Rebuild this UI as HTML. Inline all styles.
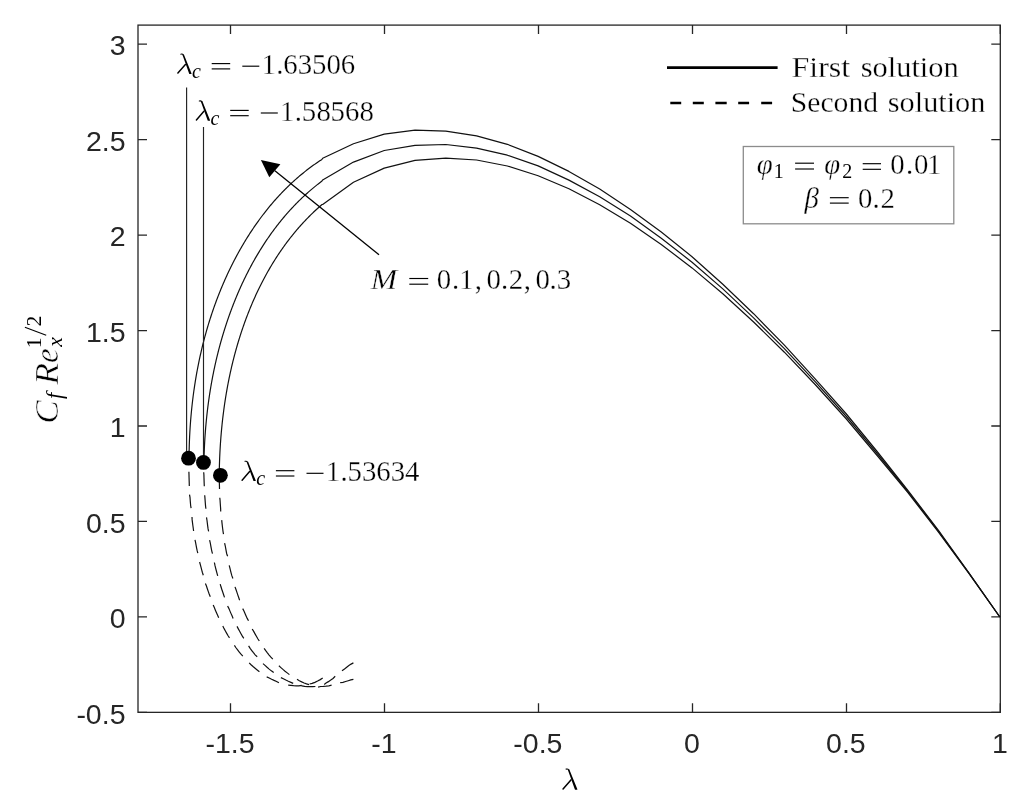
<!DOCTYPE html>
<html><head><meta charset="utf-8"><style>
html,body{margin:0;padding:0;background:#fff;}
svg{display:block;filter:grayscale(1);}
.m text{stroke:#fff;stroke-width:.3px;}
.m .yl text{stroke-width:.55px;}
</style></head><body>
<svg width="1024" height="810" viewBox="0 0 1024 810">
<rect width="1024" height="810" fill="#fff"/>
<rect x="138" y="25.1" width="862.3" height="687.25" fill="none" stroke="#262626" stroke-width="1.3"/>
<path d="M230.50 712.35v-9M230.50 25.1v9M384.50 712.35v-9M384.50 25.1v9M538.50 712.35v-9M538.50 25.1v9M692.50 712.35v-9M692.50 25.1v9M846.50 712.35v-9M846.50 25.1v9M1000.30 712.35v-9M1000.30 25.1v9M138 712.35h9M1000.3 712.35h-9M138 616.90h9M1000.3 616.90h-9M138 521.45h9M1000.3 521.45h-9M138 426.00h9M1000.3 426.00h-9M138 330.55h9M1000.3 330.55h-9M138 235.10h9M1000.3 235.10h-9M138 139.65h9M1000.3 139.65h-9M138 44.20h9M1000.3 44.20h-9" stroke="#262626" stroke-width="1.3" fill="none"/>
<g font-family="Liberation Sans, sans-serif" font-size="28.5" fill="#262626"><text x="229.97" y="753" text-anchor="middle">-1.5</text><text x="383.94" y="753" text-anchor="middle">-1</text><text x="537.91" y="753" text-anchor="middle">-0.5</text><text x="691.88" y="753" text-anchor="middle">0</text><text x="845.85" y="753" text-anchor="middle">0.5</text><text x="999.82" y="753" text-anchor="middle">1</text><text x="125.5" y="723.55" text-anchor="end">-0.5</text><text x="125.5" y="628.10" text-anchor="end">0</text><text x="125.5" y="532.65" text-anchor="end">0.5</text><text x="125.5" y="437.20" text-anchor="end">1</text><text x="125.5" y="341.75" text-anchor="end">1.5</text><text x="125.5" y="246.30" text-anchor="end">2</text><text x="125.5" y="150.85" text-anchor="end">2.5</text><text x="125.5" y="55.40" text-anchor="end">3</text></g>
<polyline points="189.04,457.86 189.05,456.61 189.07,455.37 189.08,454.12 189.10,452.87 189.12,451.63 189.15,450.38 189.17,449.13 189.21,447.89 189.24,446.64 189.27,445.39 189.31,444.15 189.36,442.90 189.40,441.65 189.45,440.40 189.50,439.15 189.56,437.91 189.61,436.66 189.67,435.41 189.74,434.16 189.80,432.91 189.87,431.67 189.94,430.42 190.02,429.17 190.10,427.92 190.18,426.67 190.26,425.43 190.35,424.18 190.44,422.93 190.54,421.68 190.63,420.43 190.73,419.19 190.84,417.94 190.94,416.69 191.05,415.44 191.17,414.20 191.28,412.95 191.40,411.70 191.52,410.46 191.65,409.21 191.78,407.96 191.91,406.72 192.04,405.47 192.18,404.23 192.32,402.98 192.47,401.74 192.61,400.49 192.77,399.25 192.92,398.00 193.08,396.76 193.24,395.51 193.40,394.27 193.57,393.03 193.74,391.79 193.91,390.54 194.09,389.30 194.27,388.06 194.46,386.82 194.64,385.58 194.83,384.34 195.03,383.10 195.22,381.86 195.42,380.62 195.63,379.39 195.84,378.15 196.05,376.91 196.26,375.68 196.48,374.44 196.70,373.20 196.92,371.97 197.15,370.74 197.38,369.50 197.61,368.27 197.85,367.04 198.09,365.80 198.34,364.57 198.59,363.34 198.84,362.11 199.09,360.88 199.35,359.66 199.61,358.43 199.88,357.20 200.15,355.97 200.42,354.75 200.70,353.52 200.98,352.30 201.26,351.08 201.55,349.85 201.84,348.63 202.13,347.41 202.43,346.19 202.73,344.97 203.03,343.75 203.34,342.54 203.65,341.32 203.97,340.10 204.29,338.89 204.61,337.68 204.94,336.46 205.27,335.25 205.60,334.04 205.94,332.83 206.28,331.62 206.62,330.41 206.97,329.21 207.32,328.00 207.68,326.79 208.04,325.59 208.40,324.39 208.77,323.18 209.14,321.98 209.51,320.78 209.89,319.59 210.27,318.39 210.66,317.19 211.05,316.00 211.44,314.80 211.83,313.61 212.24,312.42 212.64,311.23 213.05,310.04 213.46,308.85 213.87,307.66 214.29,306.47 214.72,305.29 215.14,304.11 215.58,302.92 216.01,301.74 216.45,300.56 216.89,299.39 217.34,298.21 217.79,297.04 218.24,295.86 218.70,294.69 219.16,293.52 219.63,292.35 220.10,291.18 220.57,290.02 221.05,288.85 221.53,287.69 222.01,286.53 222.50,285.37 223.00,284.21 223.49,283.06 223.99,281.90 224.50,280.75 225.01,279.60 225.52,278.45 226.04,277.30 226.56,276.16 227.08,275.01 227.61,273.87 228.14,272.73 228.68,271.60 229.22,270.46 229.77,269.33 230.32,268.20 230.87,267.07 231.42,265.94 231.99,264.81 232.55,263.69 233.12,262.57 233.69,261.45 234.27,260.33 234.85,259.22 235.44,258.11 236.02,257.00 236.62,255.89 237.22,254.78 237.82,253.68 238.42,252.58 239.03,251.48 239.65,250.39 240.26,249.29 240.89,248.20 241.51,247.11 242.14,246.03 242.78,244.94 243.42,243.86 244.06,242.78 244.70,241.71 245.36,240.64 246.01,239.56 246.67,238.50 247.33,237.43 248.00,236.37 248.67,235.31 249.35,234.25 250.03,233.20 250.71,232.15 251.40,231.10 252.10,230.05 252.79,229.01 253.50,227.97 254.20,226.93 254.91,225.90 255.63,224.87 256.34,223.85 257.07,222.82 257.79,221.80 258.53,220.78 259.26,219.77 260.00,218.76 260.75,217.75 261.49,216.75 262.25,215.75 263.00,214.76 263.77,213.76 264.53,212.77 265.30,211.79 266.08,210.81 266.86,209.83 267.64,208.85 268.43,207.88 269.22,206.92 270.02,205.96 270.82,205.00 271.62,204.04 272.43,203.09 273.25,202.15 274.07,201.20 274.89,200.27 275.72,199.33 276.55,198.40 277.39,197.48 278.23,196.55 279.07,195.64 279.92,194.72 280.78,193.82 281.64,192.91 282.50,192.01 283.37,191.12 284.24,190.23 285.12,189.34 286.00,188.46 286.88,187.59 287.78,186.71 288.67,185.85 289.57,184.99 290.47,184.13 291.38,183.28 292.30,182.43 293.22,181.59 294.14,180.75 295.07,179.92 296.00,179.09 296.93,178.27 297.88,177.45 298.82,176.64 299.77,175.83 300.73,175.03 301.69,174.23 302.65,173.44 303.62,172.66 304.59,171.88 305.57,171.10 306.55,170.33 307.54,169.57 308.54,168.81 309.53,168.06 310.53,167.31 311.54,166.57 312.55,165.84 313.57,165.11 314.59,164.38 315.61,163.67 316.65,162.95 317.68,162.25 318.72,161.55 319.76,160.85 320.81,160.16 321.87,159.48 322.68,158.20 353.46,143.70 384.24,134.10 415.02,130.20 445.80,131.20 476.58,135.80 507.36,144.30 538.14,156.40 568.92,171.40 599.70,189.10 630.48,209.40 661.26,232.05 692.04,256.70 722.82,284.20 753.60,313.70 784.38,345.20 815.16,378.90 845.94,413.50 876.72,451.00 907.50,489.80 938.28,530.20 969.06,573.00 999.84,617.00" fill="none" stroke="#111" stroke-width="1.2" stroke-linejoin="round"/>
<polyline points="203.89,462.40 203.92,461.22 203.95,460.04 203.98,458.86 204.01,457.68 204.04,456.50 204.08,455.32 204.12,454.14 204.16,452.96 204.21,451.78 204.25,450.60 204.30,449.42 204.36,448.24 204.41,447.06 204.47,445.89 204.53,444.71 204.59,443.53 204.65,442.35 204.72,441.17 204.79,440.00 204.86,438.82 204.94,437.64 205.02,436.47 205.10,435.29 205.18,434.12 205.27,432.94 205.35,431.77 205.44,430.59 205.54,429.42 205.63,428.24 205.73,427.07 205.83,425.89 205.94,424.72 206.05,423.55 206.15,422.38 206.27,421.20 206.38,420.03 206.50,418.86 206.62,417.69 206.74,416.52 206.87,415.35 207.00,414.18 207.13,413.01 207.26,411.84 207.40,410.67 207.54,409.50 207.68,408.33 207.82,407.17 207.97,406.00 208.12,404.83 208.28,403.67 208.43,402.50 208.59,401.33 208.75,400.17 208.92,399.01 209.09,397.84 209.26,396.68 209.43,395.52 209.61,394.35 209.78,393.19 209.97,392.03 210.15,390.87 210.34,389.71 210.53,388.55 210.72,387.39 210.92,386.23 211.12,385.07 211.32,383.91 211.53,382.76 211.74,381.60 211.95,380.44 212.16,379.29 212.38,378.13 212.60,376.98 212.82,375.82 213.05,374.67 213.28,373.52 213.51,372.37 213.74,371.21 213.98,370.06 214.22,368.91 214.47,367.76 214.72,366.61 214.97,365.47 215.22,364.32 215.48,363.17 215.74,362.02 216.00,360.88 216.27,359.73 216.54,358.59 216.81,357.44 217.08,356.30 217.36,355.16 217.64,354.02 217.93,352.88 218.22,351.74 218.51,350.60 218.80,349.46 219.10,348.32 219.40,347.18 219.70,346.05 220.01,344.91 220.32,343.77 220.63,342.64 220.95,341.51 221.27,340.37 221.60,339.24 221.92,338.11 222.25,336.98 222.58,335.85 222.92,334.72 223.26,333.59 223.60,332.46 223.95,331.34 224.30,330.21 224.65,329.09 225.01,327.96 225.37,326.84 225.73,325.72 226.10,324.60 226.47,323.47 226.84,322.35 227.22,321.24 227.60,320.12 227.98,319.00 228.37,317.88 228.76,316.77 229.15,315.65 229.55,314.54 229.95,313.43 230.35,312.32 230.76,311.21 231.17,310.10 231.58,308.99 232.00,307.88 232.42,306.78 232.85,305.67 233.27,304.57 233.71,303.47 234.14,302.36 234.58,301.26 235.02,300.17 235.47,299.07 235.92,297.97 236.37,296.88 236.82,295.79 237.28,294.70 237.75,293.61 238.21,292.52 238.68,291.43 239.16,290.35 239.63,289.26 240.12,288.18 240.60,287.10 241.09,286.02 241.58,284.95 242.08,283.87 242.57,282.80 243.08,281.73 243.58,280.66 244.09,279.59 244.61,278.53 245.12,277.46 245.64,276.40 246.17,275.34 246.70,274.28 247.23,273.23 247.76,272.17 248.30,271.12 248.85,270.07 249.39,269.02 249.94,267.98 250.50,266.93 251.05,265.89 251.62,264.85 252.18,263.82 252.75,262.78 253.32,261.75 253.90,260.72 254.48,259.69 255.06,258.67 255.65,257.65 256.24,256.63 256.84,255.61 257.44,254.60 258.04,253.58 258.65,252.57 259.26,251.57 259.87,250.56 260.49,249.56 261.11,248.56 261.74,247.56 262.37,246.57 263.00,245.58 263.64,244.59 264.28,243.60 264.92,242.62 265.57,241.64 266.23,240.66 266.88,239.69 267.54,238.72 268.21,237.75 268.88,236.79 269.55,235.82 270.22,234.86 270.90,233.91 271.59,232.96 272.28,232.01 272.97,231.06 273.67,230.12 274.37,229.17 275.07,228.24 275.78,227.30 276.49,226.37 277.21,225.45 277.93,224.52 278.65,223.60 279.38,222.69 280.11,221.77 280.85,220.86 281.59,219.95 282.33,219.05 283.08,218.15 283.83,217.26 284.59,216.36 285.35,215.47 286.11,214.59 286.88,213.71 287.65,212.83 288.43,211.96 289.21,211.09 290.00,210.22 290.79,209.36 291.58,208.50 292.38,207.64 293.18,206.79 293.98,205.94 294.79,205.10 295.61,204.26 296.43,203.43 297.25,202.59 298.07,201.77 298.90,200.94 299.74,200.13 300.58,199.31 301.42,198.50 302.27,197.69 303.12,196.89 303.98,196.09 304.84,195.30 305.70,194.51 306.57,193.72 307.44,192.94 308.32,192.17 309.20,191.39 310.09,190.63 310.98,189.86 311.87,189.10 312.77,188.35 313.67,187.60 314.58,186.86 315.49,186.12 316.41,185.38 317.33,184.65 318.25,183.92 319.18,183.20 320.11,182.48 321.05,181.77 321.99,181.06 322.68,179.90 353.46,162.10 384.24,150.50 415.02,145.30 445.80,144.50 476.58,148.10 507.36,155.20 538.14,165.90 568.92,180.10 599.70,196.80 630.48,216.10 661.26,238.20 692.04,262.20 722.82,288.90 753.60,317.90 784.38,348.70 815.16,381.60 845.94,416.00 876.72,453.00 907.50,491.00 938.28,531.00 969.06,573.30 999.84,617.00" fill="none" stroke="#111" stroke-width="1.2" stroke-linejoin="round"/>
<polyline points="219.23,475.13 219.24,474.01 219.25,472.90 219.27,471.78 219.29,470.66 219.31,469.55 219.34,468.43 219.36,467.31 219.39,466.20 219.42,465.08 219.46,463.96 219.49,462.84 219.53,461.72 219.57,460.60 219.61,459.49 219.65,458.37 219.70,457.25 219.75,456.13 219.80,455.01 219.85,453.89 219.90,452.77 219.96,451.65 220.02,450.53 220.08,449.41 220.15,448.29 220.21,447.17 220.28,446.05 220.35,444.93 220.42,443.81 220.50,442.69 220.58,441.57 220.66,440.45 220.74,439.33 220.83,438.20 220.91,437.08 221.00,435.96 221.10,434.84 221.19,433.72 221.29,432.60 221.39,431.48 221.49,430.36 221.59,429.24 221.70,428.12 221.81,427.00 221.92,425.88 222.04,424.76 222.15,423.64 222.27,422.52 222.39,421.40 222.52,420.29 222.64,419.17 222.77,418.05 222.91,416.93 223.04,415.81 223.18,414.69 223.32,413.57 223.46,412.46 223.60,411.34 223.75,410.22 223.90,409.11 224.05,407.99 224.21,406.87 224.36,405.76 224.52,404.64 224.69,403.53 224.85,402.41 225.02,401.30 225.19,400.18 225.37,399.07 225.54,397.95 225.72,396.84 225.90,395.73 226.09,394.61 226.27,393.50 226.46,392.39 226.66,391.28 226.85,390.17 227.05,389.06 227.25,387.95 227.45,386.84 227.66,385.73 227.87,384.62 228.08,383.51 228.29,382.41 228.51,381.30 228.73,380.19 228.95,379.09 229.18,377.98 229.41,376.88 229.64,375.77 229.87,374.67 230.11,373.57 230.35,372.46 230.59,371.36 230.84,370.26 231.09,369.16 231.34,368.06 231.59,366.96 231.85,365.86 232.11,364.76 232.38,363.67 232.64,362.57 232.91,361.47 233.18,360.38 233.46,359.28 233.74,358.19 234.02,357.10 234.30,356.00 234.59,354.91 234.88,353.82 235.17,352.73 235.47,351.64 235.77,350.55 236.07,349.47 236.37,348.38 236.68,347.29 236.99,346.21 237.31,345.12 237.63,344.04 237.95,342.96 238.27,341.88 238.60,340.79 238.93,339.71 239.26,338.64 239.60,337.56 239.94,336.48 240.28,335.40 240.62,334.33 240.97,333.25 241.33,332.18 241.68,331.11 242.04,330.04 242.40,328.97 242.77,327.90 243.13,326.83 243.51,325.76 243.88,324.70 244.26,323.63 244.64,322.57 245.02,321.50 245.41,320.44 245.80,319.38 246.20,318.32 246.59,317.26 246.99,316.21 247.40,315.15 247.81,314.10 248.22,313.05 248.63,311.99 249.05,310.94 249.47,309.90 249.89,308.85 250.32,307.80 250.75,306.76 251.18,305.72 251.62,304.67 252.06,303.63 252.51,302.60 252.95,301.56 253.41,300.52 253.86,299.49 254.32,298.46 254.78,297.43 255.24,296.40 255.71,295.37 256.18,294.35 256.66,293.33 257.14,292.30 257.62,291.29 258.10,290.27 258.59,289.25 259.09,288.24 259.58,287.23 260.08,286.22 260.59,285.21 261.09,284.20 261.60,283.20 262.12,282.19 262.63,281.19 263.15,280.20 263.68,279.20 264.21,278.21 264.74,277.21 265.27,276.22 265.81,275.24 266.35,274.25 266.90,273.27 267.45,272.29 268.00,271.31 268.56,270.33 269.12,269.36 269.68,268.38 270.25,267.42 270.82,266.45 271.40,265.48 271.97,264.52 272.56,263.56 273.14,262.60 273.73,261.65 274.33,260.70 274.92,259.75 275.52,258.80 276.13,257.85 276.74,256.91 277.35,255.97 277.96,255.04 278.58,254.10 279.21,253.17 279.83,252.24 280.46,251.31 281.10,250.39 281.74,249.47 282.38,248.55 283.03,247.64 283.68,246.73 284.33,245.82 284.99,244.91 285.65,244.01 286.31,243.11 286.98,242.21 287.65,241.31 288.33,240.42 289.01,239.53 289.70,238.65 290.38,237.76 291.08,236.88 291.77,236.01 292.47,235.13 293.18,234.26 293.88,233.40 294.60,232.53 295.31,231.67 296.03,230.82 296.76,229.96 297.48,229.11 298.21,228.26 298.95,227.42 299.69,226.58 300.43,225.74 301.18,224.91 301.93,224.08 302.69,223.25 303.45,222.43 304.21,221.61 304.98,220.79 305.75,219.98 306.53,219.17 307.31,218.36 308.09,217.56 308.88,216.76 309.67,215.97 310.47,215.17 311.27,214.39 312.07,213.60 312.88,212.82 313.69,212.05 314.51,211.27 315.33,210.50 316.15,209.74 316.98,208.98 317.82,208.22 318.65,207.47 319.49,206.72 320.34,205.97 321.19,205.23 322.04,204.49 322.68,204.50 353.46,182.20 384.24,168.10 415.02,160.40 445.80,158.10 476.58,160.00 507.36,166.00 538.14,175.70 568.92,188.70 599.70,204.70 630.48,223.30 661.26,244.50 692.04,267.90 722.82,293.70 753.60,322.00 784.38,352.20 815.16,384.50 845.94,418.50 876.72,455.00 907.50,492.20 938.28,531.80 969.06,573.60 999.84,617.00" fill="none" stroke="#111" stroke-width="1.2" stroke-linejoin="round"/>
<path d="M188.90 471.70L188.99 474.55L189.06 477.40L189.14 480.25L189.24 483.10L189.30 485.90M189.50 494.60L190.01 497.37L190.20 500.08L190.41 502.79L190.64 505.50L191.10 508.10M192.00 517.00L192.14 519.88L192.49 522.67L192.86 525.46L193.25 528.24L193.60 531.00M195.00 539.80L195.56 542.44L196.06 545.11L196.58 547.76L197.11 550.42L197.80 553.10M199.60 562.00L200.32 564.54L200.99 567.19L201.69 569.83L202.40 572.47L203.30 575.20M205.40 583.50L206.45 586.00L207.33 588.69L208.24 591.38L209.18 594.07L210.30 596.80M213.20 605.10L214.33 607.60L215.39 610.18L216.49 612.75L217.61 615.31L218.70 617.80M222.80 626.10L224.11 628.66L225.40 631.04L226.72 633.40L228.09 635.74L229.50 637.80M234.40 645.30L235.98 647.74L237.61 649.91L239.28 652.05L241.00 654.16L242.80 656.10M249.20 662.80L251.03 664.71L253.03 666.51L255.09 668.25L257.19 669.95L259.40 671.70M266.70 676.90L269.22 677.94L271.64 679.22L274.09 680.40L276.57 681.48L278.90 682.80M288.20 685.20L290.89 685.43L293.54 685.71L296.19 685.85L298.85 685.85L301.70 685.30M309.60 684.00L312.13 683.42L314.88 682.36L317.60 681.09L320.27 679.61L322.70 678.10M203.70 472.30L203.92 475.06L203.99 477.85L204.08 480.63L204.18 483.41L204.30 486.20M204.70 495.20L204.94 497.92L205.13 500.65L205.34 503.37L205.56 506.10L205.90 508.80M206.50 517.40L206.98 520.22L207.32 523.03L207.67 525.84L208.05 528.65L208.60 531.40M209.60 540.10L210.26 542.84L210.75 545.57L211.26 548.31L211.79 551.03L212.50 553.70M214.40 562.50L214.91 565.19L215.57 567.84L216.24 570.49L216.95 573.13L217.70 575.80M220.20 584.20L220.97 586.80L221.83 589.44L222.71 592.06L223.62 594.69L224.50 597.40M227.60 606.00L228.83 608.36L229.88 610.87L230.95 613.37L232.05 615.86L233.10 618.40M237.00 626.40L238.34 628.88L239.64 631.34L240.98 633.77L242.35 636.17L243.80 638.40M248.60 645.90L250.16 648.31L251.78 650.53L253.45 652.72L255.16 654.86L257.20 656.70M263.00 663.60L265.01 665.42L267.06 667.29L269.18 669.10L271.34 670.85L273.70 672.60M280.90 677.60L283.36 678.78L285.83 680.08L288.35 681.29L290.90 682.40L293.20 683.40M301.70 685.80L304.71 686.29L307.37 686.59L310.03 686.71L312.67 686.66L315.40 686.50M324.20 684.40L326.05 682.99L328.42 681.63L330.74 680.11L333.02 678.46L335.20 676.30M342.00 670.80L344.50 668.99L346.70 667.24L348.89 665.60L351.09 664.10L353.40 662.90M219.40 475.00L219.28 477.82L219.32 480.61L219.38 483.40L219.45 486.19L219.50 489.00M219.80 497.70L220.08 500.45L220.25 503.24L220.44 506.02L220.65 508.80L220.70 511.60M221.70 520.10L221.99 522.91L222.31 525.72L222.65 528.52L223.02 531.32L223.50 534.10M224.60 543.10L225.23 545.76L225.71 548.42L226.20 551.08L226.72 553.74L227.60 556.30M229.20 565.30L229.86 567.97L230.52 570.63L231.21 573.28L231.92 575.92L232.90 578.50M235.00 586.90L235.97 589.51L236.86 592.18L237.77 594.84L238.70 597.49L239.60 600.20M242.70 608.60L243.95 610.96L245.01 613.45L246.10 615.93L247.21 618.39L248.50 620.80M252.20 629.00L253.68 631.42L255.02 633.87L256.40 636.31L257.82 638.72L259.30 641.00M264.10 648.30L265.73 650.64L267.40 652.86L269.12 655.04L270.89 657.18L272.80 659.20M278.90 665.80L280.89 667.61L282.94 669.42L285.04 671.18L287.20 672.89L289.40 674.60M297.00 679.30L299.35 680.73L301.71 681.89L304.12 682.95L306.56 683.90L309.00 684.60M318.10 687.10L320.76 686.51L323.43 686.44L326.12 686.21L328.80 685.85L331.60 685.20M340.20 682.70L342.96 682.36L345.60 681.54L348.22 680.71L350.81 679.89L353.40 679.30" fill="none" stroke="#111" stroke-width="1.2"/>
<path d="M186.6 87.4V458M203.5 127V462" stroke="#222" stroke-width="1.15"/>
<circle cx="188.5" cy="458.2" r="7.4" fill="#000"/>
<circle cx="203.45" cy="462.4" r="7.4" fill="#000"/>
<circle cx="220.4" cy="475.3" r="7.4" fill="#000"/>
<path d="M379 254.7L274.9 170.8" stroke="#000" stroke-width="1.3"/>
<path d="M260.9 160.1L280.4 164.3L269.3 177.2Z" fill="#000"/>
<path d="M667 67.6H777.6" stroke="#000" stroke-width="2.6"/>
<path d="M670.3 103H681.2M692.8 103H703.8M715.4 103H726.7M738.2 103H749.1M761.2 103H772.1" stroke="#000" stroke-width="2.6"/>
<rect x="743.3" y="146.5" width="210.5" height="77.3" fill="#fff" stroke="#8c8c8c" stroke-width="1.3"/>
<g class="m"><text font-family="Liberation Serif, serif" font-size="29" transform="translate(791.48 76.90) scale(1.1039 1)" fill="#000">First</text><text font-family="Liberation Serif, serif" font-size="29" transform="translate(860.75 76.90) scale(1.0487 1)" fill="#000">solution</text><text font-family="Liberation Serif, serif" font-size="29" transform="translate(790.82 111.50) scale(1.0219 1)" fill="#000">Second</text><text font-family="Liberation Serif, serif" font-size="29" transform="translate(887.76 111.50) scale(1.0454 1)" fill="#000">solution</text><g transform="translate(176.90 74.10) scale(1.000)" fill="#000" stroke="#000"><path d="M5.6 -19.0L7.0 -19.55L14.45 -1.1Q14.75 -0.45 14.55 -0.2L12.5 -0.2Q12.2 -0.35 12.2 -0.6Z" stroke="none"/><path d="M3.9 -19.9Q5.6 -20.4 6.55 -19.0" fill="none" stroke-width="1.05" stroke-linecap="round"/><path d="M8.5 -9.6L1.0 -1.0" fill="none" stroke-width="1.45" stroke-linecap="round"/></g><text font-family="Liberation Serif, serif" font-style="italic" style="stroke:none" font-size="20.0" x="192.11" y="77.70" fill="#000">c</text><rect x="211.70" y="63.02" width="18.50" height="1.15" fill="#000"/><rect x="211.70" y="68.32" width="18.50" height="1.15" fill="#000"/><rect x="242.30" y="65.62" width="17.00" height="1.15" fill="#000"/><text font-family="Liberation Serif, serif" font-size="28.8" x="261.45" y="74.10" fill="#000">1</text><text font-family="Liberation Serif, serif" font-size="28.8" x="276.20" y="74.10" fill="#000">.</text><text font-family="Liberation Serif, serif" font-size="28.8" x="283.36" y="74.10" fill="#000">6</text><text font-family="Liberation Serif, serif" font-size="28.8" x="297.77" y="74.10" fill="#000">3</text><text font-family="Liberation Serif, serif" font-size="28.8" x="311.98" y="74.10" fill="#000">5</text><text font-family="Liberation Serif, serif" font-size="28.8" x="326.60" y="74.10" fill="#000">0</text><text font-family="Liberation Serif, serif" font-size="28.8" x="340.76" y="74.10" fill="#000">6</text><g transform="translate(195.40 120.90) scale(1.000)" fill="#000" stroke="#000"><path d="M5.6 -19.0L7.0 -19.55L14.45 -1.1Q14.75 -0.45 14.55 -0.2L12.5 -0.2Q12.2 -0.35 12.2 -0.6Z" stroke="none"/><path d="M3.9 -19.9Q5.6 -20.4 6.55 -19.0" fill="none" stroke-width="1.05" stroke-linecap="round"/><path d="M8.5 -9.6L1.0 -1.0" fill="none" stroke-width="1.45" stroke-linecap="round"/></g><text font-family="Liberation Serif, serif" font-style="italic" style="stroke:none" font-size="20.0" x="210.61" y="124.50" fill="#000">c</text><rect x="230.20" y="109.83" width="18.50" height="1.15" fill="#000"/><rect x="230.20" y="115.12" width="18.50" height="1.15" fill="#000"/><rect x="260.80" y="112.42" width="17.00" height="1.15" fill="#000"/><text font-family="Liberation Serif, serif" font-size="28.8" x="279.95" y="120.90" fill="#000">1</text><text font-family="Liberation Serif, serif" font-size="28.8" x="294.70" y="120.90" fill="#000">.</text><text font-family="Liberation Serif, serif" font-size="28.8" x="301.78" y="120.90" fill="#000">5</text><text font-family="Liberation Serif, serif" font-size="28.8" x="316.40" y="120.90" fill="#000">8</text><text font-family="Liberation Serif, serif" font-size="28.8" x="330.48" y="120.90" fill="#000">5</text><text font-family="Liberation Serif, serif" font-size="28.8" x="344.91" y="120.90" fill="#000">6</text><text font-family="Liberation Serif, serif" font-size="28.8" x="359.45" y="120.90" fill="#000">8</text><g transform="translate(241.10 481.20) scale(1.000)" fill="#000" stroke="#000"><path d="M5.6 -19.0L7.0 -19.55L14.45 -1.1Q14.75 -0.45 14.55 -0.2L12.5 -0.2Q12.2 -0.35 12.2 -0.6Z" stroke="none"/><path d="M3.9 -19.9Q5.6 -20.4 6.55 -19.0" fill="none" stroke-width="1.05" stroke-linecap="round"/><path d="M8.5 -9.6L1.0 -1.0" fill="none" stroke-width="1.45" stroke-linecap="round"/></g><text font-family="Liberation Serif, serif" font-style="italic" style="stroke:none" font-size="20.0" x="256.31" y="484.80" fill="#000">c</text><rect x="275.90" y="470.12" width="18.50" height="1.15" fill="#000"/><rect x="275.90" y="475.43" width="18.50" height="1.15" fill="#000"/><rect x="306.50" y="472.73" width="17.00" height="1.15" fill="#000"/><text font-family="Liberation Serif, serif" font-size="28.8" x="325.65" y="481.20" fill="#000">1</text><text font-family="Liberation Serif, serif" font-size="28.8" x="340.40" y="481.20" fill="#000">.</text><text font-family="Liberation Serif, serif" font-size="28.8" x="347.48" y="481.20" fill="#000">5</text><text font-family="Liberation Serif, serif" font-size="28.8" x="361.97" y="481.20" fill="#000">3</text><text font-family="Liberation Serif, serif" font-size="28.8" x="376.26" y="481.20" fill="#000">6</text><text font-family="Liberation Serif, serif" font-size="28.8" x="390.67" y="481.20" fill="#000">3</text><text font-family="Liberation Serif, serif" font-size="28.8" x="405.09" y="481.20" fill="#000">4</text><text font-family="Liberation Serif, serif" font-style="italic" font-size="28.8" transform="translate(370.86 289.00) scale(1.100 1)" fill="#000">M</text><rect x="409.30" y="277.93" width="18.90" height="1.15" fill="#000"/><rect x="409.30" y="283.62" width="18.90" height="1.15" fill="#000"/><text font-family="Liberation Serif, serif" font-size="28.8" x="436.80" y="289.00" fill="#000">0</text><text font-family="Liberation Serif, serif" font-size="28.8" x="451.90" y="289.00" fill="#000">.</text><text font-family="Liberation Serif, serif" font-size="28.8" x="459.20" y="289.00" fill="#000">1</text><text font-family="Liberation Serif, serif" font-size="28.8" x="474.66" y="289.00" fill="#000">,</text><text font-family="Liberation Serif, serif" font-size="28.8" x="486.50" y="289.00" fill="#000">0</text><text font-family="Liberation Serif, serif" font-size="28.8" x="501.10" y="289.00" fill="#000">.</text><text font-family="Liberation Serif, serif" font-size="28.8" x="508.76" y="289.00" fill="#000">2</text><text font-family="Liberation Serif, serif" font-size="28.8" x="523.76" y="289.00" fill="#000">,</text><text font-family="Liberation Serif, serif" font-size="28.8" x="535.40" y="289.00" fill="#000">0</text><text font-family="Liberation Serif, serif" font-size="28.8" x="549.50" y="289.00" fill="#000">.</text><text font-family="Liberation Serif, serif" font-size="28.8" x="556.77" y="289.00" fill="#000">3</text><text font-family="Liberation Serif, serif" font-style="italic" font-size="28.8" x="756.65" y="174.40" fill="#000">φ</text><text font-family="Liberation Serif, serif" style="stroke:none" font-size="20.0" x="773.77" y="177.80" fill="#000">1</text><rect x="795.10" y="162.62" width="18.90" height="1.15" fill="#000"/><rect x="795.10" y="168.43" width="18.90" height="1.15" fill="#000"/><text font-family="Liberation Serif, serif" font-style="italic" font-size="28.8" x="824.35" y="174.40" fill="#000">φ</text><text font-family="Liberation Serif, serif" style="stroke:none" font-size="20.0" x="842.26" y="177.80" fill="#000">2</text><rect x="862.70" y="163.12" width="18.30" height="1.15" fill="#000"/><rect x="862.70" y="168.73" width="18.30" height="1.15" fill="#000"/><text font-family="Liberation Serif, serif" font-size="28.8" x="890.30" y="174.40" fill="#000">0</text><text font-family="Liberation Serif, serif" font-size="28.8" x="906.10" y="174.40" fill="#000">.</text><text font-family="Liberation Serif, serif" font-size="28.8" x="914.10" y="174.40" fill="#000">0</text><text font-family="Liberation Serif, serif" font-size="28.8" x="926.90" y="174.40" fill="#000">1</text><text font-family="Liberation Serif, serif" font-style="italic" font-size="28.8" x="804.38" y="208.30" fill="#000">β</text><rect x="829.90" y="197.12" width="18.80" height="1.15" fill="#000"/><rect x="829.90" y="202.53" width="18.80" height="1.15" fill="#000"/><text font-family="Liberation Serif, serif" font-size="28.8" x="858.10" y="208.30" fill="#000">0</text><text font-family="Liberation Serif, serif" font-size="28.8" x="872.50" y="208.30" fill="#000">.</text><text font-family="Liberation Serif, serif" font-size="28.8" x="880.46" y="208.30" fill="#000">2</text><g transform="translate(562.00 790.00) scale(1.050)" fill="#000" stroke="#000"><path d="M5.6 -19.0L7.0 -19.55L14.45 -1.1Q14.75 -0.45 14.55 -0.2L12.5 -0.2Q12.2 -0.35 12.2 -0.6Z" stroke="none"/><path d="M3.9 -19.9Q5.6 -20.4 6.55 -19.0" fill="none" stroke-width="1.05" stroke-linecap="round"/><path d="M8.5 -9.6L1.0 -1.0" fill="none" stroke-width="1.45" stroke-linecap="round"/></g><g transform="translate(57.7 0) rotate(-90)" class="yl"><text font-family="Liberation Serif, serif" font-style="italic" font-size="33" transform="translate(-423.87 0.00) scale(1.070 1)" fill="#000">C</text><text font-family="Liberation Serif, serif" font-style="italic" style="stroke:none" font-size="22.5" x="-399.00" y="4.00" fill="#000">f</text><text font-family="Liberation Serif, serif" font-style="italic" font-size="33" transform="translate(-384.64 0.00) scale(1.080 1)" fill="#000">R</text><text font-family="Liberation Serif, serif" font-style="italic" font-size="33" x="-363.11" y="0.00" fill="#000">e</text><text font-family="Liberation Serif, serif" font-style="italic" style="stroke:none" font-size="21.6" x="-346.68" y="3.80" fill="#000">x</text><text font-family="Liberation Serif, serif" style="stroke:none" font-size="21.7" x="-348.28" y="-16.50" fill="#000">1</text><text font-family="Liberation Serif, serif" style="stroke:none" font-size="21.7" x="-326.40" y="-16.50" fill="#000">2</text><path d="M-335.2 -11.5L-327.3 -32.8" stroke="#000" stroke-width="1.1"/></g></g>
</svg>
</body></html>
